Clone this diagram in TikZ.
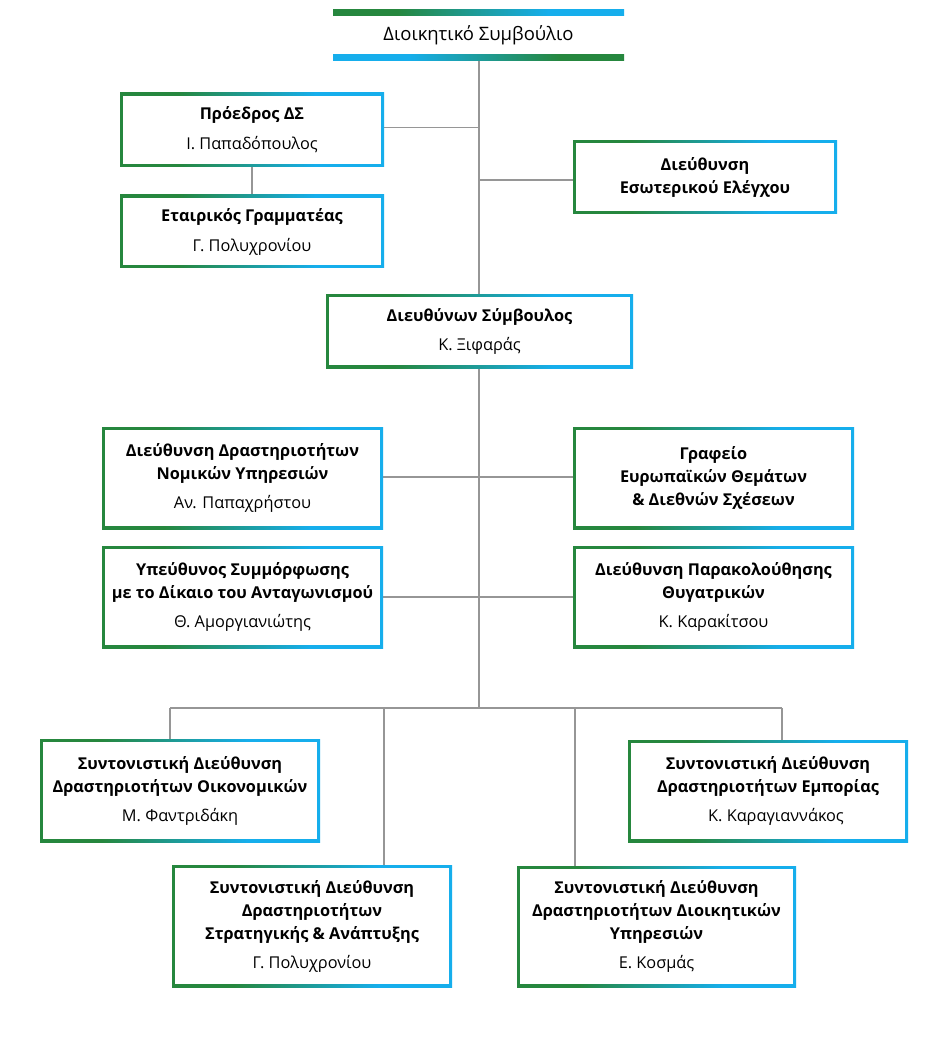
\documentclass[tikz,border=0pt]{standalone}
\usepackage{fontspec}
\setmainfont{Open Sans}
\pgfdeclarelayer{back}
\pgfdeclarelayer{bg}
\pgfsetlayers{back,bg,main}
\definecolor{gr}{RGB}{38,135,62}
\definecolor{bl}{RGB}{22,174,236}
\definecolor{ln}{RGB}{150,150,150}
\pgfdeclarehorizontalshading{gbshade}{100bp}{color(0bp)=(gr); color(25bp)=(gr); color(36bp)=(gr); color(62bp)=(bl); color(75bp)=(bl); color(100bp)=(bl)}
\pgfdeclarehorizontalshading{bgshade}{100bp}{color(0bp)=(bl); color(25bp)=(bl); color(38bp)=(bl); color(64bp)=(gr); color(75bp)=(gr); color(100bp)=(gr)}
\tikzset{
  orgbox/.style={rectangle, inner sep=0pt, fill=white, align=center,
    font=\fontsize{16.3}{23}\selectfont,
    path picture={
      \shade[shading=gbshade] (path picture bounding box.south west) rectangle (path picture bounding box.north east);
      \fill[white] ([xshift=2.6pt,yshift=2.6pt]path picture bounding box.south west) rectangle ([xshift=-2.6pt,yshift=-2.6pt]path picture bounding box.north east);
    }},
  titlebox/.style={rectangle, inner sep=0pt, fill=white, align=center,
    font=\fontsize{18.5}{22}\selectfont,
    path picture={
      \shade[shading=gbshade] (path picture bounding box.north west) rectangle ([yshift=-6pt]path picture bounding box.north east);
      \shade[shading=bgshade] ([yshift=6pt]path picture bounding box.south west) rectangle (path picture bounding box.south east);
    }},
  conn/.style={draw=ln, line width=1.4pt}
}
\begin{document}
\begin{tikzpicture}[x=1pt,y=-1pt]
\begin{pgfonlayer}{back}
\fill[white] (0,0) rectangle (950,1040);
\end{pgfonlayer}
\useasboundingbox (0,0) rectangle (950,1040);

\node[titlebox, minimum width=291pt, minimum height=51pt] (title) at (478.5,35.5) {Διοικητικό Συμβούλιο};

\node[orgbox, minimum width=264pt, minimum height=74pt] (pres) at (252,130) {\textbf{Πρόεδρος ΔΣ}\\[7pt]Ι. Παπαδόπουλος};
\node[orgbox, minimum width=264pt, minimum height=73pt] (sec) at (252,231.5) {\textbf{Εταιρικός Γραμματέας}\\[7pt]Γ. Πολυχρονίου};
\node[orgbox, minimum width=264pt, minimum height=73pt] (audit) at (705,177) {\textbf{Διεύθυνση}\\\textbf{Εσωτερικού Ελέγχου}};
\node[orgbox, minimum width=307pt, minimum height=74pt] (ceo) at (479.5,331) {\textbf{Διευθύνων Σύμβουλος}\\[6pt]Κ. Ξιφαράς};

\node[orgbox, minimum width=281pt, minimum height=102pt] (legal) at (242.5,478) {\textbf{Διεύθυνση Δραστηριοτήτων}\\\textbf{Νομικών Υπηρεσιών}\\[6pt]Αν. Παπαχρήστου};
\node[orgbox, minimum width=281pt, minimum height=102pt] (euro) at (713.5,478) {\textbf{Γραφείο}\\\textbf{Ευρωπαϊκών Θεμάτων}\\\textbf{\& Διεθνών Σχέσεων}};
\node[orgbox, minimum width=281pt, minimum height=102pt] (comp) at (242.5,597) {\textbf{Υπεύθυνος Συμμόρφωσης}\\\textbf{με το Δίκαιο του Ανταγωνισμού}\\[6pt]Θ. Αμοργιανιώτης};
\node[orgbox, minimum width=281pt, minimum height=102pt] (subs) at (713.5,597) {\textbf{Διεύθυνση Παρακολούθησης}\\\textbf{Θυγατρικών}\\[6pt]Κ. Καρακίτσου};

\node[orgbox, minimum width=280pt, minimum height=103pt] (fin) at (180,790.5) {\textbf{Συντονιστική Διεύθυνση}\\\textbf{Δραστηριοτήτων Οικονομικών}\\[6pt]Μ. Φαντριδάκη};
\node[orgbox, minimum width=280pt, minimum height=102pt] (trade) at (768,791) {\textbf{Συντονιστική Διεύθυνση}\\\textbf{Δραστηριοτήτων Εμπορίας}\\[6pt]\hspace*{16pt}Κ. Καραγιαννάκος};
\node[orgbox, minimum width=280pt, minimum height=122pt] (strat) at (312,926) {\textbf{Συντονιστική Διεύθυνση}\\\textbf{Δραστηριοτήτων}\\\textbf{Στρατηγικής \& Ανάπτυξης}\\[6pt]Γ. Πολυχρονίου};
\node[orgbox, minimum width=279pt, minimum height=121pt] (admin) at (656.5,926.5) {\textbf{Συντονιστική Διεύθυνση}\\\textbf{Δραστηριοτήτων Διοικητικών}\\\textbf{Υπηρεσιών}\\[6pt]Ε. Κοσμάς};

\coordinate (bus) at (479,708);
\coordinate (b1) at (170,708);
\coordinate (b2) at (384,708);
\coordinate (b3) at (575,708);
\coordinate (b4) at (782,708);

\begin{pgfonlayer}{bg}
\draw[conn] (title.south -| bus) -- (bus);
\draw[conn] ([yshift=2.5pt]pres.east) -- ([yshift=2.5pt]pres.east -| bus);
\draw[conn] (pres.south) -- (sec.north);
\draw[conn] ([yshift=-3pt]audit.west) -- ([yshift=-3pt]audit.west -| bus);
\draw[conn] ([yshift=1pt]legal.east) -- ([yshift=1pt]euro.west);
\draw[conn] (comp.east) -- (subs.west);
\draw[conn] (b1) -- (b4);
\draw[conn] (b1) -- (b1 |- fin.north);
\draw[conn] (b2) -- (b2 |- strat.north);
\draw[conn] (b3) -- (b3 |- admin.north);
\draw[conn] (b4) -- (b4 |- trade.north);
\end{pgfonlayer}
\end{tikzpicture}
\end{document}
